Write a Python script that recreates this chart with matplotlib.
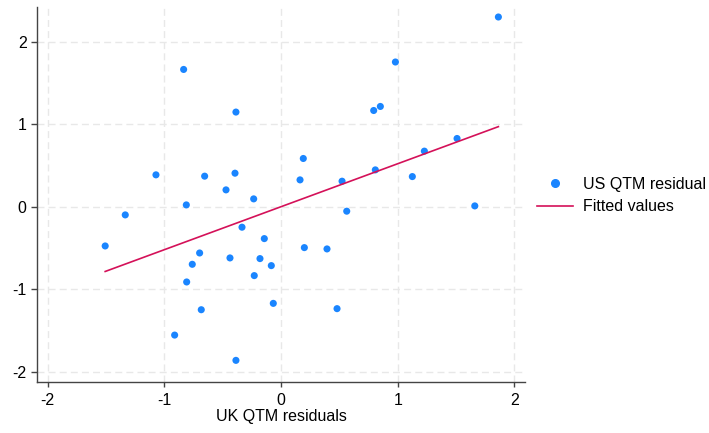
import numpy as np
import matplotlib
matplotlib.use("Agg")
import matplotlib.pyplot as plt
from matplotlib.lines import Line2D

plt.rcParams['font.family'] = ['Liberation Sans', 'DejaVu Sans']
plt.rcParams['axes.unicode_minus'] = False

uk_resid = [-0.834, -0.386, -1.071, -0.654, -0.394, -0.471, -0.234, -0.811, -1.334,
            0.191, 0.163, 0.523, 0.563,
            1.862, 0.980, 0.794, 0.851, 1.508, 1.228, 0.808, 1.125, 1.660,
            -1.506, -0.334, -0.143, 0.200, 0.394, -0.697, -0.437, -0.180, -0.760,
            -0.083, -0.229, -0.808, -0.066, -0.683, 0.480, -0.911, -0.386]
us_resid = [1.664, 1.148, 0.388, 0.372, 0.408, 0.206, 0.097, 0.024, -0.097,
            0.586, 0.327, 0.311, -0.052,
            2.299, 1.754, 1.167, 1.216, 0.828, 0.675, 0.448, 0.367, 0.012,
            -0.473, -0.246, -0.384, -0.493, -0.509, -0.558, -0.618, -0.626, -0.695,
            -0.711, -0.832, -0.909, -1.168, -1.245, -1.232, -1.552, -1.858]
x_ticks = [-2, -1, 0, 1, 2]
y_ticks = [-2, -1, 0, 1, 2]
x_label = "UK QTM residuals"
legend_labels = ["US QTM residual", "Fitted values"]

x = np.array(uk_resid)
y = np.array(us_resid)
slope, intercept = np.polyfit(x, y, 1)
xs = np.array([x.min(), x.max()])
ys = intercept + slope * xs

blue = '#1a85ff'
red = '#d41159'
fs = 11.5

fig = plt.figure(figsize=(7.09, 4.33), dpi=100)
ax = fig.add_axes([37/709, 1-382/433, (525-37)/709, (382-7)/433])
ax.set_xlim(-2.09, 2.09)
ax.set_ylim(-2.12, 2.42)
ax.set_xticks(x_ticks)
ax.set_yticks(y_ticks)
ax.grid(True, color='#e8e8e8', linestyle=(0, (5, 3)), linewidth=1.0)
ax.set_axisbelow(True)
for s in ['top', 'right']:
    ax.spines[s].set_visible(False)
for s in ['left', 'bottom']:
    ax.spines[s].set_color('#444444')
    ax.spines[s].set_linewidth(1.0)
ax.tick_params(axis='x', length=3.5, width=1, color='#444444', labelsize=fs, pad=4.5)
ax.tick_params(axis='y', length=4.5, width=1, color='#444444', labelsize=fs, pad=3)
ax.set_xlabel(x_label, fontsize=fs, labelpad=0.5)

ax.scatter(x, y, s=26, color=blue, edgecolors='none', zorder=3)
ax.plot(xs, ys, color=red, linewidth=1.2, zorder=4)

handles = [Line2D([], [], marker='o', linestyle='none', color=blue, markersize=5.5),
           Line2D([], [], color=red, linewidth=1.2)]
fig.legend(handles, legend_labels, loc='center left', bbox_to_anchor=(537/709, 1-195.5/433),
           frameon=False, fontsize=fs, handlelength=2.25, handletextpad=0.62,
           labelspacing=0.5, borderpad=0, borderaxespad=0)

fig.savefig('out.png', dpi=100)
